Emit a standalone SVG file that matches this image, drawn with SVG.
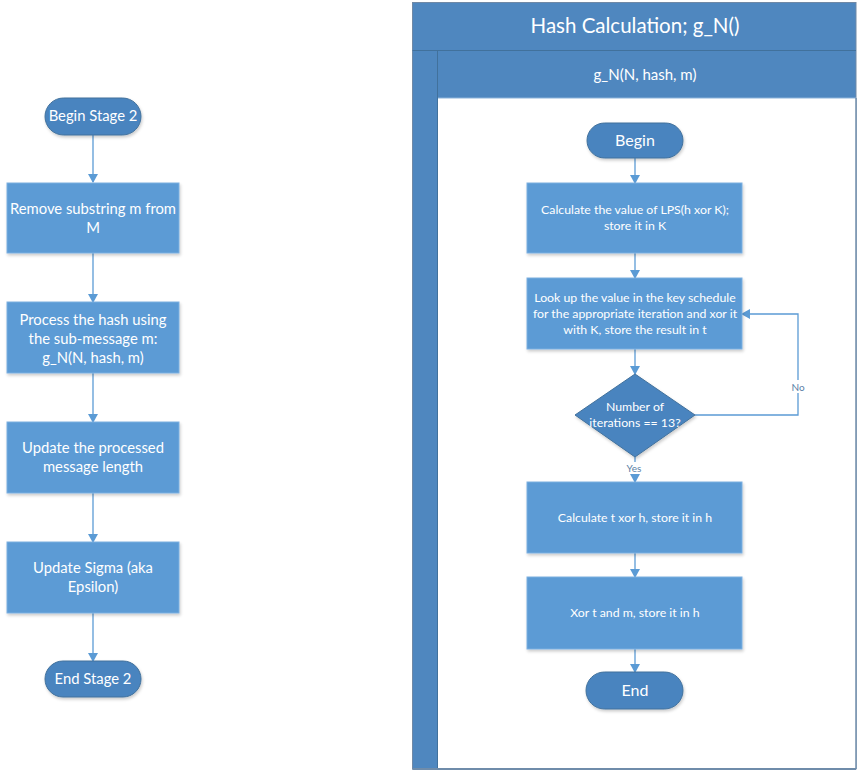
<svg xmlns="http://www.w3.org/2000/svg" width="862" height="777" viewBox="0 0 862 777">
<style>
.t{font-family:Lato,"Open Sans","Liberation Sans",sans-serif;fill:#ffffff;text-anchor:middle}
.l{font-size:14.8px}
.s{font-size:12.3px}
.box{fill:#5B9BD5;stroke:#7DAFE0;stroke-width:1}
.term{fill:#4A84BF;stroke:#41719C;stroke-width:1}
.c{fill:none;stroke:#5B9BD5;stroke-width:1.3}
.lab{font-family:Lato,"Open Sans","Liberation Sans",sans-serif;font-size:10px;fill:#5B7FA6;text-anchor:middle}
</style>
<defs>
<marker id="ah" markerWidth="10" markerHeight="10" refX="8" refY="5" orient="auto" markerUnits="userSpaceOnUse">
<path d="M0,0 L9,5 L0,10 Z" fill="#5B9BD5"/>
</marker>
<filter id="sh" x="-10%" y="-10%" width="130%" height="140%">
<feDropShadow dx="1" dy="2" stdDeviation="1.5" flood-color="#000" flood-opacity="0.2"/>
</filter>
</defs>
<rect width="862" height="777" fill="#ffffff"/>

<g id="container">
<rect x="412.5" y="2.5" width="443.5" height="766.5" fill="#4F87BF" stroke="#7089A6" stroke-width="1"/>
<rect x="438" y="98" width="418" height="670.5" fill="#ffffff"/>
<line x1="412.5" y1="50.5" x2="856" y2="50.5" stroke="#41719C" stroke-width="1"/>
<line x1="437.5" y1="50.5" x2="437.5" y2="769" stroke="#41719C" stroke-width="1"/>
<line x1="438" y1="98" x2="856" y2="98" stroke="#8DB3DA" stroke-width="1"/>
<line x1="412.5" y1="769" x2="856" y2="769" stroke="#6F8CAA" stroke-width="2"/>
<line x1="856" y1="98" x2="856" y2="769" stroke="#6F8CAA" stroke-width="1.5"/>
<text class="t" x="635" y="33" style="font-size:20.5px">Hash Calculation; g_N()</text>
<text class="t" x="645" y="80" style="font-size:15px">g_N(N, hash, m)</text>
</g>

<g id="connectors">
<line class="c" x1="93" y1="135" x2="93" y2="182" marker-end="url(#ah)"/>
<line class="c" x1="93" y1="253" x2="93" y2="302" marker-end="url(#ah)"/>
<line class="c" x1="93" y1="373" x2="93" y2="422" marker-end="url(#ah)"/>
<line class="c" x1="93" y1="493" x2="93" y2="542" marker-end="url(#ah)"/>
<line class="c" x1="93" y1="613" x2="93" y2="661" marker-end="url(#ah)"/>
<line class="c" x1="635" y1="158" x2="635" y2="183" marker-end="url(#ah)"/>
<line class="c" x1="635" y1="253" x2="635" y2="278" marker-end="url(#ah)"/>
<line class="c" x1="635" y1="349" x2="635" y2="374" marker-end="url(#ah)"/>
<line class="c" x1="635" y1="457" x2="635" y2="482" marker-end="url(#ah)"/>
<line class="c" x1="635" y1="553" x2="635" y2="577" marker-end="url(#ah)"/>
<line class="c" x1="635" y1="649" x2="635" y2="672" marker-end="url(#ah)"/>
<polyline class="c" points="695,415 798,415 798,314 742,314" marker-end="url(#ah)"/>
<rect x="789" y="380" width="18" height="13" fill="#ffffff"/>
<text class="lab" x="798" y="391">No</text>
<rect x="624" y="462" width="22" height="12" fill="#ffffff"/>
<text class="lab" x="634" y="472">Yes</text>
</g>

<g id="begin-stage2">
<rect class="term" x="45" y="98" width="96" height="37" rx="18.5" filter="url(#sh)"/>
<text class="t l" x="93" y="121">Begin Stage 2</text>
</g>
<g id="remove-substring">
<rect class="box" x="7" y="183" width="172" height="70" filter="url(#sh)"/>
<text class="t l" x="93" y="214">Remove substring m from</text>
<text class="t l" x="93" y="233">M</text>
</g>
<g id="process-hash">
<rect class="box" x="7" y="302" width="172" height="71" filter="url(#sh)"/>
<text class="t l" x="93" y="325">Process the hash using</text>
<text class="t l" x="93" y="344">the sub-message m:</text>
<text class="t l" x="93" y="363">g_N(N, hash, m)</text>
</g>
<g id="update-length">
<rect class="box" x="7" y="422" width="172" height="71" filter="url(#sh)"/>
<text class="t l" x="93" y="453">Update the processed</text>
<text class="t l" x="93" y="472">message length</text>
</g>
<g id="update-sigma">
<rect class="box" x="7" y="542" width="172" height="71" filter="url(#sh)"/>
<text class="t l" x="93" y="573">Update Sigma (aka</text>
<text class="t l" x="93" y="592">Epsilon)</text>
</g>
<g id="end-stage2">
<rect class="term" x="45" y="661" width="96" height="36" rx="18" filter="url(#sh)"/>
<text class="t l" x="93" y="684">End Stage 2</text>
</g>

<g id="begin">
<rect class="term" x="587" y="123" width="96" height="35" rx="17.5" filter="url(#sh)"/>
<text class="t" x="635" y="146" style="font-size:16px">Begin</text>
</g>
<g id="calc-lps">
<rect class="box" x="527" y="183" width="215" height="70" filter="url(#sh)"/>
<text class="t s" x="635" y="214">Calculate the value of LPS(h xor K);</text>
<text class="t s" x="635" y="230">store it in K</text>
</g>
<g id="lookup-key">
<rect class="box" x="527" y="278" width="215" height="71" filter="url(#sh)"/>
<text class="t s" x="635" y="302">Look up the value in the key schedule</text>
<text class="t s" x="635" y="318">for the appropriate iteration and xor it</text>
<text class="t s" x="635" y="334">with K, store the result in t</text>
</g>
<g id="decision">
<polygon points="635,374 695,415 635,457 575,415" fill="#4A84BF" stroke="#41719C" stroke-width="1" filter="url(#sh)"/>
<text class="t s" x="635" y="411">Number of</text>
<text class="t s" x="635" y="427">iterations == 13?</text>
</g>
<g id="calc-txorh">
<rect class="box" x="527" y="482" width="215" height="71" filter="url(#sh)"/>
<text class="t s" x="635" y="522">Calculate t xor h, store it in h</text>
</g>
<g id="xor-tm">
<rect class="box" x="527" y="577" width="215" height="72" filter="url(#sh)"/>
<text class="t s" x="635" y="617">Xor t and m, store it in h</text>
</g>
<g id="end">
<rect class="term" x="586" y="672" width="97" height="37" rx="18.5" filter="url(#sh)"/>
<text class="t" x="635" y="696" style="font-size:16px">End</text>
</g>
</svg>
